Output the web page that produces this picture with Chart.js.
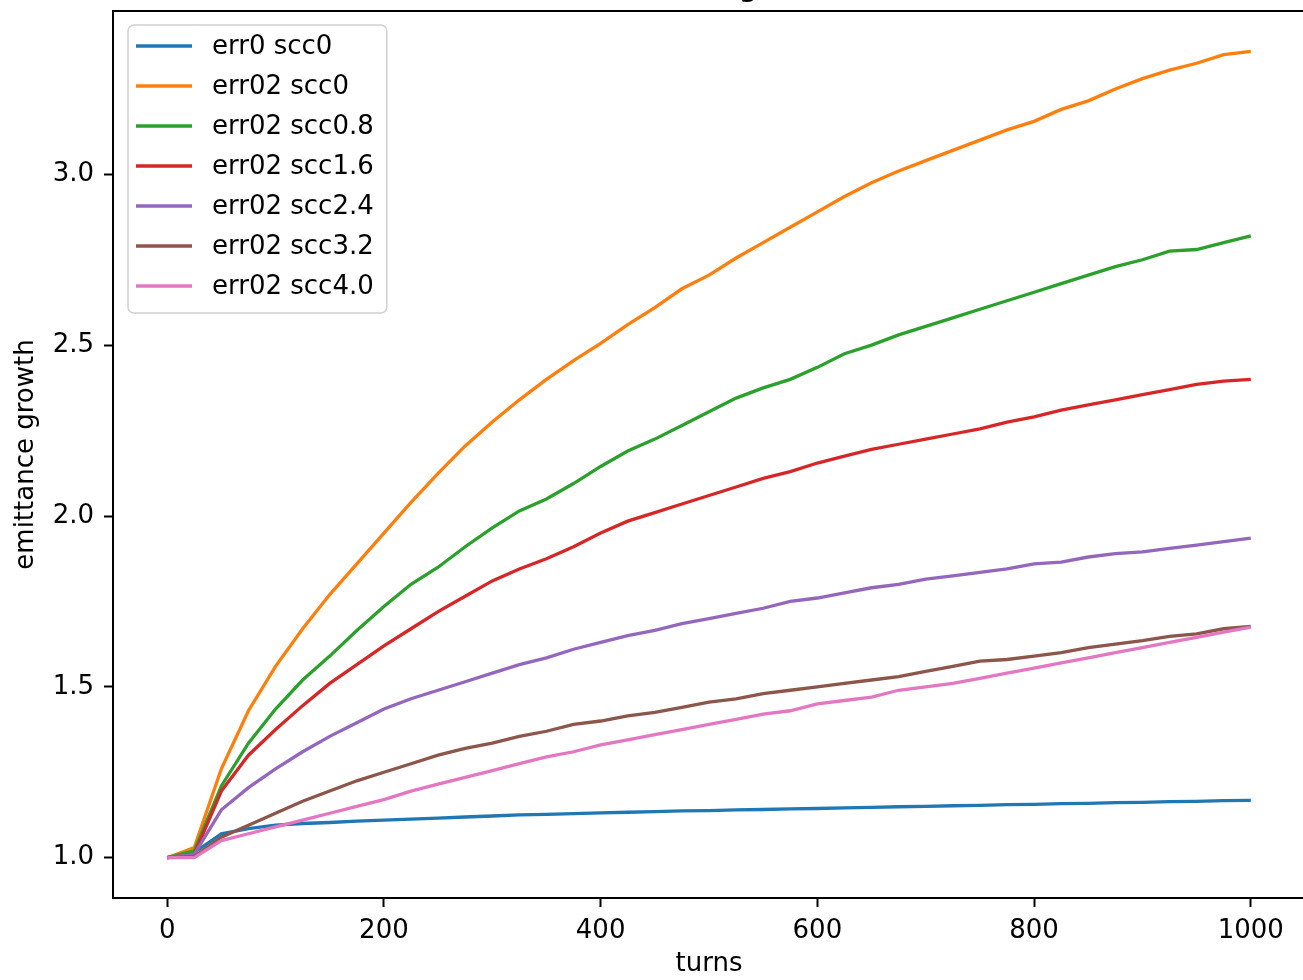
<!DOCTYPE html>
<html>
<head>
<meta charset="utf-8">
<script src="https://cdn.jsdelivr.net/npm/chart.js@4/dist/chart.umd.min.js"></script>
<style>
  html, body { margin: 0; padding: 0; background: #fff; overflow: hidden; }
  #wrap { position: relative; width: 1310px; height: 980px; }
</style>
</head>
<body>
<div id="wrap"><canvas id="c"></canvas></div>
<script>
// Turn numbers at which the emittance was sampled
const turns = [0, 25, 50, 75, 100, 125, 150, 175, 200, 225, 250, 275, 300, 325, 350, 375, 400,
  425, 450, 475, 500, 525, 550, 575, 600, 625, 650, 675, 700, 725, 750, 775, 800, 825, 850, 875,
  900, 925, 950, 975, 1000];

const err0Scc0 = [1.0, 1.015, 1.07, 1.085, 1.095, 1.1, 1.103, 1.107, 1.11, 1.113, 1.116, 1.119,
  1.122, 1.125, 1.127, 1.129, 1.131, 1.133, 1.135, 1.137, 1.138, 1.14, 1.141, 1.143, 1.144, 1.146,
  1.147, 1.149, 1.15, 1.152, 1.153, 1.155, 1.156, 1.158, 1.159, 1.161, 1.162, 1.164, 1.165, 1.167, 1.168];

const err02Scc0 = [1.0, 1.03, 1.26, 1.43, 1.56, 1.67, 1.77, 1.86, 1.95, 2.04, 2.125, 2.205, 2.275,
  2.34, 2.4, 2.455, 2.505, 2.56, 2.61, 2.665, 2.705, 2.755, 2.8, 2.845, 2.89, 2.935, 2.975, 3.01,
  3.04, 3.07, 3.1, 3.13, 3.155, 3.19, 3.215, 3.25, 3.28, 3.305, 3.325, 3.35, 3.36];

const err02Scc08 = [1.0, 1.02, 1.21, 1.335, 1.435, 1.52, 1.59, 1.665, 1.735, 1.8, 1.85, 1.91,
  1.965, 2.015, 2.05, 2.095, 2.145, 2.19, 2.225, 2.265, 2.305, 2.345, 2.375, 2.4, 2.435, 2.475,
  2.5, 2.53, 2.555, 2.58, 2.605, 2.63, 2.655, 2.68, 2.705, 2.73, 2.75, 2.775, 2.78, 2.8, 2.82];

const err02Scc16 = [1.0, 1.01, 1.195, 1.3, 1.375, 1.445, 1.51, 1.565, 1.62, 1.67, 1.72, 1.765,
  1.81, 1.845, 1.875, 1.91, 1.95, 1.985, 2.01, 2.035, 2.06, 2.085, 2.11, 2.13, 2.155, 2.175,
  2.195, 2.21, 2.225, 2.24, 2.255, 2.275, 2.29, 2.31, 2.325, 2.34, 2.355, 2.37, 2.385, 2.395, 2.4];

const err02Scc24 = [1.0, 1.01, 1.14, 1.205, 1.26, 1.31, 1.355, 1.395, 1.435, 1.465, 1.49, 1.515,
  1.54, 1.565, 1.585, 1.61, 1.63, 1.65, 1.665, 1.685, 1.7, 1.715, 1.73, 1.75, 1.76, 1.775, 1.79,
  1.8, 1.815, 1.825, 1.835, 1.845, 1.86, 1.865, 1.88, 1.89, 1.895, 1.905, 1.915, 1.925, 1.935];

const err02Scc32 = [1.0, 1.003, 1.06, 1.095, 1.13, 1.165, 1.195, 1.225, 1.25, 1.275, 1.3, 1.32,
  1.335, 1.355, 1.37, 1.39, 1.4, 1.415, 1.425, 1.44, 1.455, 1.465, 1.48, 1.49, 1.5, 1.51, 1.52,
  1.53, 1.545, 1.56, 1.575, 1.58, 1.59, 1.6, 1.615, 1.625, 1.635, 1.648, 1.655, 1.67, 1.677];

const err02Scc40 = [1.0, 1.0, 1.05, 1.07, 1.09, 1.11, 1.13, 1.15, 1.17, 1.195, 1.215, 1.235,
  1.255, 1.275, 1.295, 1.31, 1.33, 1.345, 1.36, 1.375, 1.39, 1.405, 1.42, 1.43, 1.45, 1.46, 1.47,
  1.49, 1.5, 1.51, 1.525, 1.54, 1.555, 1.57, 1.585, 1.6, 1.615, 1.63, 1.645, 1.66, 1.675];

const seriesLabels = ['err0 scc0', 'err02 scc0', 'err02 scc0.8', 'err02 scc1.6',
  'err02 scc2.4', 'err02 scc3.2', 'err02 scc4.0'];
const seriesValues = [err0Scc0, err02Scc0, err02Scc08, err02Scc16, err02Scc24, err02Scc32, err02Scc40];
const seriesColors = ['#1f77b4', '#ff7f0e', '#2ca02c', '#d62728', '#9467bd', '#8c564b', '#e377c2'];

const xTicks = [0, 200, 400, 600, 800, 1000];
const yTicks = [1.0, 1.5, 2.0, 2.5, 3.0];

const titleText = 'emittance growth';
const xTitle = 'turns';
const yTitle = 'emittance growth';

const FONT = 'DejaVu Sans';
const FS = 26;

// 5% padding around the data range on both axes
const allVals = seriesValues.flat();
const yLo = Math.min(...allVals), yHi = Math.max(...allVals);
const yPad = (yHi - yLo) * 0.05;
const xLo = Math.min(...turns), xHi = Math.max(...turns);
const xPad = (xHi - xLo) * 0.05;

const datasets = seriesValues.map((vals, i) => ({
  label: seriesLabels[i],
  data: turns.map((t, k) => ({ x: t, y: vals[k] })),
  borderColor: seriesColors[i],
  backgroundColor: seriesColors[i],
  borderWidth: 3.3,
  pointRadius: 0,
  tension: 0,
  fill: false,
  order: seriesValues.length - i
}));

// Full rectangular frame around the plot area
const framePlugin = {
  id: 'frame',
  afterDatasetsDraw(chart) {
    const a = chart.chartArea, ctx = chart.ctx;
    ctx.save();
    ctx.strokeStyle = '#000';
    ctx.lineWidth = 2;
    ctx.strokeRect(a.left, a.top, a.right - a.left, a.bottom - a.top);
    ctx.restore();
  }
};

// Legend box in the upper-left corner of the plot, plus the title above the frame
const legendPlugin = {
  id: 'boxLegend',
  afterDraw(chart) {
    const ctx = chart.ctx, a = chart.chartArea;
    ctx.save();
    ctx.font = FS + 'px "' + FONT + '"';
    const items = chart.data.datasets;
    let maxW = 0;
    items.forEach(d => { maxW = Math.max(maxW, ctx.measureText(d.label).width); });
    const left = a.left + 15, top = a.top + 14;
    const rowH = 40, textX = left + 84;
    const w = 84 + maxW + 13, h = items.length * rowH + 8;
    ctx.fillStyle = 'rgba(255,255,255,0.8)';
    ctx.strokeStyle = '#d0d0d0';
    ctx.lineWidth = 1.5;
    ctx.beginPath();
    ctx.roundRect(left, top, w, h, 6);
    ctx.fill();
    ctx.stroke();
    items.forEach((d, i) => {
      const cy = top + 21 + i * rowH;
      ctx.strokeStyle = d.borderColor;
      ctx.lineWidth = 3.3;
      ctx.beginPath();
      ctx.moveTo(left + 8, cy);
      ctx.lineTo(left + 64, cy);
      ctx.stroke();
      ctx.fillStyle = '#000';
      ctx.textBaseline = 'middle';
      ctx.textAlign = 'left';
      ctx.fillText(d.label, textX, cy + 1);
    });
    // title sits above the canvas edge; only its descenders reach the top rows
    ctx.font = '31px "' + FONT + '"';
    ctx.textAlign = 'center';
    ctx.textBaseline = 'alphabetic';
    ctx.fillStyle = '#000';
    ctx.fillText(titleText, (a.left + a.right) / 2, -4);
    ctx.restore();
  }
};

new Chart(document.getElementById('c'), {
  type: 'line',
  data: { datasets },
  plugins: [framePlugin, legendPlugin],
  options: {
    responsive: true,
    maintainAspectRatio: false,
    animation: false,
    events: [],
    layout: { padding: { top: 11, right: 5, left: 0, bottom: 0 } },
    plugins: { legend: { display: false }, tooltip: { enabled: false }, title: { display: false } },
    scales: {
      x: {
        type: 'linear',
        min: xLo - xPad,
        max: xHi + xPad,
        afterBuildTicks(scale) { scale.ticks = xTicks.map(v => ({ value: v })); },
        afterFit(scale) { scale.height = 82; scale.paddingLeft = 0; scale.paddingRight = 0; },
        border: { display: true, color: '#000', width: 2 },
        grid: { drawOnChartArea: false, drawTicks: true, tickLength: 9, tickColor: '#000', tickWidth: 2 },
        ticks: { color: '#000', font: { family: FONT, size: FS }, padding: 9, maxRotation: 0,
          callback: v => String(v) },
        title: { display: true, text: xTitle, color: '#000', font: { family: FONT, size: FS },
          padding: { top: 0, bottom: 0 } }
      },
      y: {
        type: 'linear',
        min: yLo - yPad,
        max: yHi + yPad,
        afterBuildTicks(scale) { scale.ticks = yTicks.map(v => ({ value: v })); },
        afterFit(scale) { scale.width = 113; scale.paddingTop = 0; scale.paddingBottom = 0; },
        border: { display: true, color: '#000', width: 2 },
        grid: { drawOnChartArea: false, drawTicks: true, tickLength: 9, tickColor: '#000', tickWidth: 2 },
        ticks: { color: '#000', font: { family: FONT, size: FS }, padding: 10,
          callback: v => Number(v).toFixed(1) },
        title: { display: true, text: yTitle, color: '#000', font: { family: FONT, size: FS },
          padding: { top: 11, bottom: 0 } }
      }
    }
  }
});
</script>
</body>
</html>
